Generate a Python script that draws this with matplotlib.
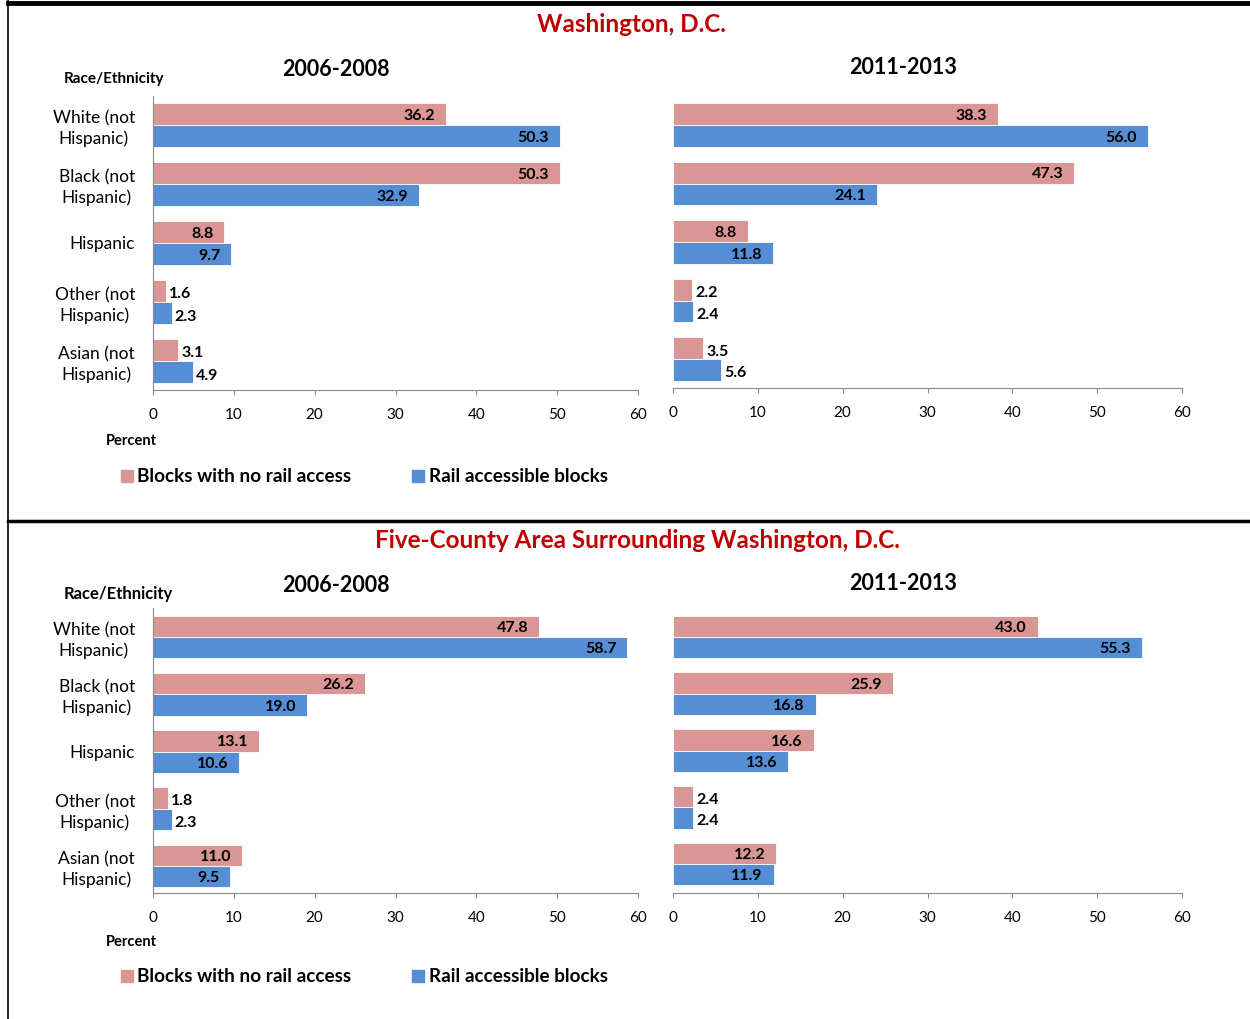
import matplotlib.pyplot as plt
from matplotlib.lines import Line2D
from matplotlib.patches import Rectangle
import numpy as np

plt.rcParams['font.family'] = ['Lato', 'DejaVu Sans']

categories = ['White (not\nHispanic)', 'Black (not\nHispanic)', 'Hispanic',
              'Other (not\nHispanic)', 'Asian (not\nHispanic)']
series_names = ['Blocks with no rail access', 'Rail accessible blocks']

dc_0608_norail = [36.2, 50.3, 8.8, 1.6, 3.1]
dc_0608_rail = [50.3, 32.9, 9.7, 2.3, 4.9]
dc_1113_norail = [38.3, 47.3, 8.8, 2.2, 3.5]
dc_1113_rail = [56.0, 24.1, 11.8, 2.4, 5.6]

sub_0608_norail = [47.8, 26.2, 13.1, 1.8, 11.0]
sub_0608_rail = [58.7, 19.0, 10.6, 2.3, 9.5]
sub_1113_norail = [43.0, 25.9, 16.6, 2.4, 12.2]
sub_1113_rail = [55.3, 16.8, 13.6, 2.4, 11.9]

PINK = '#D99694'
BLUE = '#558ED5'
RED = '#C00000'
W, H = 1250, 1019

fig = plt.figure(figsize=(12.5, 10.19), dpi=100)


def px_axes(x0, x1, c0, unit, bottom):
    top = c0 - 0.5 * unit
    ax = fig.add_axes([x0 / W, 1 - bottom / H, (x1 - x0) / W, (bottom - top) / H])
    ax.set_ylim((bottom - c0) / unit, -0.5)
    return ax


def draw_panel(ax, norail, rail, show_cats):
    y = np.arange(len(categories))
    h = 0.375
    ax.barh(y - h / 2, norail, height=h, color=PINK, edgecolor='white', linewidth=0.6)
    ax.barh(y + h / 2, rail, height=h, color=BLUE, edgecolor='white', linewidth=0.6)
    for vals, off in ((norail, -h / 2), (rail, h / 2)):
        for i, v in enumerate(vals):
            if v >= 8:
                ax.text(v - 1.3, i + off + 0.03, f'{v:.1f}', ha='right', va='center',
                        fontsize=11.5, fontweight='bold')
            else:
                ax.text(v + 0.4, i + off + 0.06, f'{v:.1f}', ha='left', va='center',
                        fontsize=11.5, fontweight='bold')
    ax.set_xlim(0, 60)
    ax.set_xticks(range(0, 61, 10))
    ax.tick_params(axis='x', direction='out', length=3.5, color='#888888', labelsize=11,
                   pad=9.5)
    for s in ('top', 'right'):
        ax.spines[s].set_visible(False)
    ax.spines['bottom'].set_color('#888888')
    if show_cats:
        ax.spines['left'].set_color('#888888')
        ax.set_yticks(y)
        ax.set_yticklabels(categories, fontsize=12.5, multialignment='center',
                           linespacing=1.3)
        ax.tick_params(axis='y', length=0, pad=13)
    else:
        ax.spines['left'].set_visible(False)
        ax.set_yticks([])


panels = [
    (153, 638, 125, 59.0, 390, dc_0608_norail, dc_0608_rail, True),
    (673, 1182, 125, 58.5, 388, dc_1113_norail, dc_1113_rail, False),
    (153, 638, 637, 57.25, 893, sub_0608_norail, sub_0608_rail, True),
    (673, 1182, 637, 56.75, 893, sub_1113_norail, sub_1113_rail, False),
]
for x0, x1, c0, unit, bottom, nr, r, show in panels:
    ax = px_axes(x0, x1, c0, unit, bottom)
    draw_panel(ax, nr, r, show)


def ftext(x, y, s, **kw):
    fig.text(x / W, 1 - y / H, s, **kw)


# section titles
ftext(631, 25, 'Washington, D.C.', ha='center', va='center', color=RED,
      fontsize=17.5, fontweight='bold')
ftext(637, 541, 'Five-County Area Surrounding Washington, D.C.', ha='center',
      va='center', color=RED, fontsize=17.5, fontweight='bold')

for top in (0, 1):
    dy = 0 if top == 0 else 515
    ftext(336, 70 + dy, '2006-2008', ha='center', va='center', fontsize=15.5, fontweight='bold')
    ftext(903, 68 + dy, '2011-2013', ha='center', va='center', fontsize=15.5, fontweight='bold')
    ftext(64, 79 + dy, 'Race/Ethnicity', ha='left', va='center',
          fontsize=11 if top == 0 else 12, fontweight='bold')
    ftext(106, 441 + dy - (0 if top == 0 else 14), 'Percent', ha='left', va='center',
          fontsize=10.5, fontweight='bold')
    ly = 476 + dy - (0 if top == 0 else 15)
    for (sx, tx, name, col) in ((121, 137, series_names[0], PINK), (412, 429, series_names[1], BLUE)):
        fig.patches.append(Rectangle((sx / W, 1 - (ly + 6) / H), 12 / W, 12 / H,
                                     transform=fig.transFigure, color=col))
        ftext(tx, ly, name, ha='left', va='center', fontsize=13.6, fontweight='bold')

# frame lines
fig.add_artist(Line2D([8 / W, 1], [1 - 3 / H, 1 - 3 / H], color='black', lw=3.5))
fig.add_artist(Line2D([8 / W, 1], [1 - 521 / H, 1 - 521 / H], color='black', lw=2.5))
fig.add_artist(Line2D([8 / W, 8 / W], [0, 1], color='black', lw=1.2))

fig.savefig('out.png', dpi=100)
